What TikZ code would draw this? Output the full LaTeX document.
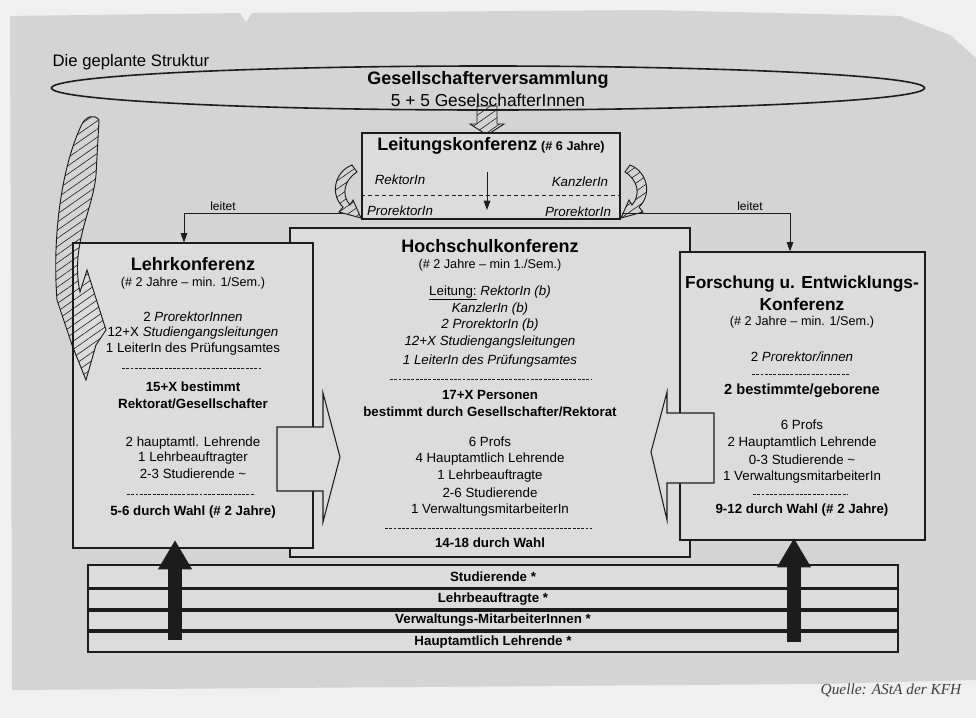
\documentclass[tikz,border=0pt]{standalone}
\usepackage{fontspec}
\setmainfont{Liberation Sans}
\newfontfamily\quellefont{Liberation Serif}
\usetikzlibrary{shapes.geometric,arrows.meta,patterns.meta}
\definecolor{ink}{RGB}{28,28,28}
\definecolor{paper}{RGB}{212,212,212}
\definecolor{boxfill}{RGB}{220,220,220}
\definecolor{outside}{RGB}{240,240,240}
\begin{document}
\begin{tikzpicture}[x=0.75pt,y=-0.75pt,
  boxst/.style={draw=ink, fill=boxfill, line width=0.9pt, inner sep=0pt},
  barst/.style={draw=ink, fill=boxfill, line width=1.3pt, inner sep=0pt, minimum width=607.5pt, font=\bfseries\fontsize{10}{12}\selectfont},
  ttl/.style={inner sep=0pt, font=\bfseries\fontsize{13.5}{15}\selectfont},
  sub/.style={inner sep=0pt, font=\fontsize{9.5}{11}\selectfont},
  bod/.style={inner sep=0pt, font=\fontsize{10}{12}\selectfont},
  bbod/.style={inner sep=0pt, font=\bfseries\fontsize{10}{12}\selectfont},
  sep/.style={draw=ink, line width=0.6pt, dash pattern=on 2.2pt off 1pt},
  conn/.style={draw=ink, line width=0.7pt},
  hatch/.style={draw=ink, line width=0.7pt, pattern={Lines[angle=35,distance=5pt,line width=0.45pt]}, pattern color=ink},
  block/.style={draw=ink, fill=boxfill, line width=0.8pt, line join=miter},
  bigarrow/.style={draw=ink, line width=10pt, -{Triangle[width=24pt,length=22pt]}}
]
\path[use as bounding box] (0,0) rectangle (976,718);
\fill[outside] (0,0) rectangle (976,718);
\fill[paper] (10,16) -- (240,13) -- (246,22) -- (252,13) -- (650,10) -- (900,16) -- (950,35) -- (976,58) -- (976,680) -- (820,684) -- (12,690) -- cycle;

% title
\node[inner sep=0pt, font=\fontsize{12.5}{14}\selectfont] (title) at (131,62) {Die geplante Struktur};

% Gesellschafterversammlung
\node[draw=ink, line width=1.2pt, ellipse, minimum width=654.75pt, minimum height=33pt, inner sep=0pt] (gv) at (488,88) {};
\node[ttl] (gv1) at (488,80) {Gesellschafterversammlung};
\node[inner sep=0pt, font=\fontsize{13}{15}\selectfont] (gv2) at (488,100) {5 + 5 GeselschafterInnen};

% small hatched arrow down
\path[hatch] (477,106) -- (497,106) -- (497,124) -- (504,124) -- (487,135) -- (470,124) -- (477,124) -- cycle;

% Hochschulkonferenz (behind)
\node[boxst, minimum width=300pt, minimum height=246.75pt] (hk) at (490,392.5) {};
% Lehrkonferenz
\node[boxst, minimum width=180pt, minimum height=228.75pt] (lehr) at (193,395.5) {};
% Forschung
\node[boxst, minimum width=183.75pt, minimum height=216pt] (fe) at (802.5,396) {};

% Leitungskonferenz
\node[boxst, minimum width=193.5pt, minimum height=64.5pt] (lk) at (491,176) {};
\node[inner sep=0pt] (lk1) at (491,146) {{\bfseries\fontsize{13.5}{15}\selectfont Leitungskonferenz} {\bfseries\fontsize{9.5}{11}\selectfont (\# 6 Jahre)}};
\node[bod] (lk2) at (400,180) {\textit{RektorIn}};
\node[bod] (lk3) at (580,182) {\textit{KanzlerIn}};
\draw[sep, dash pattern=on 3pt off 2.2pt] (lk.west |- 0,195) -- (lk.east |- 0,195);
\node[bod] (lk4) at (400,211) {\textit{ProrektorIn}};
\node[bod] (lk5) at (578,212) {\textit{ProrektorIn}};
\coordinate (ia) at (487,172);
\coordinate (ib) at (487,210);
\draw[conn, -{Triangle[width=5pt,length=7pt]}] (ia) -- (ib);

% leitet connectors
\coordinate (la) at (345,213);
\coordinate (lb) at (184,213);
\draw[conn, -{Triangle[width=5pt,length=7pt]}] (la) -- (lb) -- (lehr.north -| lb);
\node[inner sep=0pt, font=\fontsize{9}{11}\selectfont] (lt1) at (223,206) {leitet};
\coordinate (ra) at (622,213);
\coordinate (rb) at (790,213);
\draw[conn, -{Triangle[width=5pt,length=7pt]}] (ra) -- (rb) -- (fe.north -| rb);
\node[inner sep=0pt, font=\fontsize{9}{11}\selectfont] (lt2) at (750,206) {leitet};

% curved hatched arrows beside Leitungskonferenz
\path[hatch] (352,165) .. controls (334,172) and (330,195) .. (343,207) -- (339,212) -- (361,218) -- (353,200) -- (350,205) .. controls (341,195) and (344,180) .. (357,172) -- cycle;
\path[hatch] (630,165) .. controls (648,172) and (652,195) .. (639,207) -- (643,212) -- (621,218) -- (629,200) -- (632,205) .. controls (641,195) and (638,180) .. (625,172) -- cycle;

% big hatched arrow on the left
\path[hatch] (82,124) .. controls (62,165) and (52,235) .. (57,300) -- (72,345) -- (86,380) -- (96,345) -- (106,330) -- (87,270) -- (80,292) .. controls (70,245) and (93,210) .. (96,175) -- (99,120) .. controls (95,114) and (86,116) .. (82,124) -- cycle;

% Lehrkonferenz text
\node[ttl] (l1) at (193,264) {Lehrkonferenz};
\node[sub] (l2) at (193,283) {(\# 2 Jahre – min. 1/Sem.)};
\node[bod] (l3) at (193,317) {2 \textit{ProrektorInnen}};
\node[bod] (l4) at (193,333) {12+X \textit{Studiengangsleitungen}};
\node[bod] (l5) at (193,349) {1 LeiterIn des Prüfungsamtes};
\draw[sep] (122,368) -- (262,368);
\node[bbod] (l6) at (193,387) {15+X bestimmt};
\node[bbod] (l7) at (193,404) {Rektorat/Gesellschafter};
\node[bod] (l8) at (193,443) {2 hauptamtl. Lehrende};
\node[bod] (l9) at (193,458) {1 Lehrbeauftragter};
\node[bod] (l10) at (193,474) {2-3 Studierende \textasciitilde};
\draw[sep] (127,494) -- (255,494);
\node[bbod] (l11) at (193,512) {5-6 durch Wahl (\# 2 Jahre)};

% Hochschulkonferenz text
\node[ttl] (h1) at (490,246) {Hochschulkonferenz};
\node[sub] (h2) at (490,265) {(\# 2 Jahre – min 1./Sem.)};
\node[bod] (h3) at (490,293) {\underline{Leitung:} \textit{RektorIn (b)}};
\node[bod] (h4) at (490,309) {\textit{KanzlerIn (b)}};
\node[bod] (h5) at (490,325) {\textit{2 ProrektorIn (b)}};
\node[bod] (h6) at (490,342) {\textit{12+X Studiengangsleitungen}};
\node[bod] (h7) at (490,361) {\textit{1 LeiterIn des Prüfungsamtes}};
\draw[sep] (390,379) -- (592,379);
\node[bbod] (h8) at (490,395) {17+X Personen};
\node[bbod] (h9) at (490,412) {bestimmt durch Gesellschafter/Rektorat};
\node[bod] (h10) at (490,442) {6 Profs};
\node[bod] (h11) at (490,459) {4 Hauptamtlich Lehrende};
\node[bod] (h12) at (490,476) {1 Lehrbeauftragte};
\node[bod] (h13) at (490,493) {2-6 Studierende};
\node[bod] (h14) at (490,510) {1 VerwaltungsmitarbeiterIn};
\draw[sep] (385,528) -- (592,528);
\node[bbod] (h15) at (490,543) {14-18 durch Wahl};

% Forschung text
\node[ttl, font=\bfseries\fontsize{13}{15}\selectfont] (f1) at (802,284) {Forschung u. Entwicklungs-};
\node[ttl, font=\bfseries\fontsize{13}{15}\selectfont] (f2) at (802,304) {Konferenz};
\node[sub] (f3) at (802,322) {(\# 2 Jahre – min. 1/Sem.)};
\node[bod] (f4) at (802,357) {2 \textit{Prorektor/innen}};
\draw[sep] (752,374) -- (850,374);
\node[bbod, font=\bfseries\fontsize{11}{13}\selectfont] (f5) at (802,391) {2 bestimmte/geborene};
\node[bod] (f6) at (802,425) {6 Profs};
\node[bod] (f7) at (802,443) {2 Hauptamtlich Lehrende};
\node[bod] (f8) at (802,460) {0-3 Studierende \textasciitilde};
\node[bod] (f9) at (802,477) {1 VerwaltungsmitarbeiterIn};
\draw[sep] (753,494) -- (847,494);
\node[bbod] (f10) at (802,510) {9-12 durch Wahl (\# 2 Jahre)};

% hollow block arrows into Hochschulkonferenz
\path[block] (277,427) -- (323,427) -- (323,393) -- (340,457) -- (323,522) -- (323,491) -- (277,491) -- cycle;
\path[block] (714,413) -- (667,413) -- (667,392) -- (651,452) -- (667,520) -- (667,483) -- (714,483) -- cycle;

% bars
\node[barst, minimum height=17.25pt] (b1) at (493,576.5) {Studierende *};
\node[barst, minimum height=15pt] (b2) at (493,599) {Lehrbeauftragte *};
\node[barst, minimum height=14.25pt] (b3) at (493,620.5) {Verwaltungs-MitarbeiterInnen *};
\node[barst, minimum height=15pt] (b4) at (493,642) {Hauptamtlich Lehrende *};

% black arrows up
\coordinate (ua) at (175,640);
\coordinate (ub) at (175,540);
\draw[bigarrow] (ua) -- (ub);
\coordinate (va) at (794,642);
\coordinate (vb) at (794,538);
\draw[bigarrow] (va) -- (vb);

% source
\node[inner sep=0pt, text=ink!85, font=\quellefont\itshape\fontsize{11.5}{13}\selectfont] (q) at (891,690) {Quelle: AStA der KFH};
\end{tikzpicture}
\end{document}
